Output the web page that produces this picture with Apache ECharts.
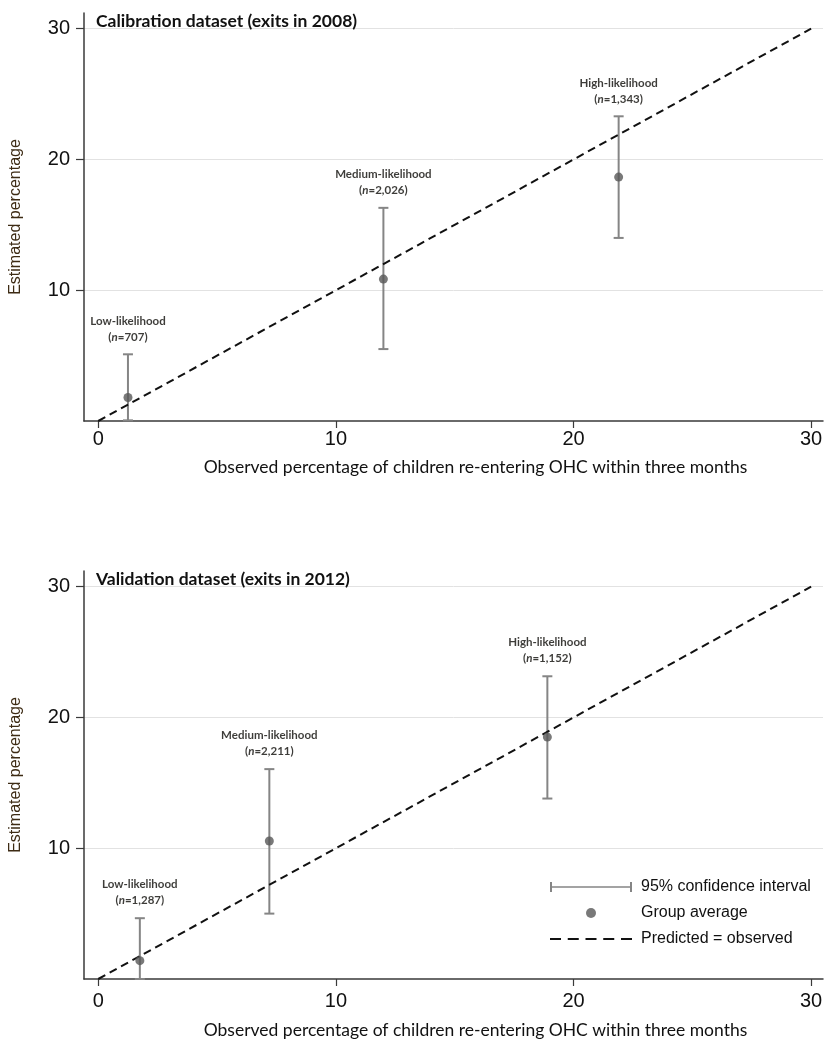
<!DOCTYPE html>
<html>
<head>
<meta charset="utf-8">
<script src="https://cdn.jsdelivr.net/npm/echarts@6/dist/echarts.min.js"></script>
<style>
html,body{margin:0;padding:0;background:#fff;}
#chart{width:827px;height:1042px;}
</style>
</head>
<body>
<div id="chart"></div>
<script>
// ---- data ----
const groupLabels = ['Low-likelihood', 'Medium-likelihood', 'High-likelihood'];
const calN   = ['707', '2,026', '1,343'];
const calObs = [1.25, 12.0, 21.9];
const calEst = [1.8, 10.85, 18.65];
const calLo  = [0.05, 5.5, 14.0];
const calHi  = [5.1, 16.3, 23.3];

const valN   = ['1,287', '2,211', '1,152'];
const valObs = [1.75, 7.2, 18.9];
const valEst = [1.4, 10.55, 18.5];
const valLo  = [0.0, 5.0, 13.8];
const valHi  = [4.65, 16.05, 23.15];

const xTicks = [0, 10, 20, 30];
const yTicks = [10, 20, 30];
const refLine = [[0, 0], [30, 30]];

const titles = ['Calibration dataset (exits in 2008)', 'Validation dataset (exits in 2012)'];
const xName = 'Observed percentage of children re-entering OHC within three months';
const yName = 'Estimated percentage';

// ---- chart ----
const chart = echarts.init(document.getElementById('chart'), null, {renderer: 'canvas'});

const axisColor = '#3a3a3a';
function mkX(gi, labelMargin, nameGap) {
  return {
    type: 'value', gridIndex: gi, min: -0.6, max: 30.5,
    name: xName, nameLocation: 'middle', nameGap: nameGap,
    nameTextStyle: {fontFamily: 'Lato', fontSize: 17.5, color: '#111', padding: [0, 0, 0, 44]},
    axisLine: {show: true, onZero: false, lineStyle: {color: axisColor, width: 1.5}},
    axisTick: {show: true, length: 7, customValues: xTicks, lineStyle: {color: axisColor, width: 1.2}},
    axisLabel: {customValues: xTicks, fontFamily: 'Liberation Sans', fontSize: 20, color: '#111', margin: labelMargin},
    splitLine: {show: false}
  };
}
function mkY(gi) {
  return {
    type: 'value', gridIndex: gi, min: 0, max: 31.2,
    name: yName, nameLocation: 'middle', nameGap: 60, nameRotate: 90,
    nameTextStyle: {fontFamily: 'Liberation Sans', fontSize: 16, color: '#3d2b14'},
    axisLine: {show: true, onZero: false, lineStyle: {color: axisColor, width: 1.5}},
    axisTick: {show: true, length: 8, customValues: yTicks, lineStyle: {color: axisColor, width: 1.2}},
    axisLabel: {customValues: yTicks, fontFamily: 'Liberation Sans', fontSize: 20, color: '#111', margin: 14},
    splitLine: {show: true, lineStyle: {color: '#e2e2e2', width: 1}}
  };
}

function errRender(params, api) {
  const x = api.value(0);
  const lo = api.coord([x, api.value(1)]);
  const hi = api.coord([x, api.value(2)]);
  const hw = 5;
  const style = {stroke: '#858585', lineWidth: 2, fill: null};
  return {
    type: 'group',
    children: [
      {type: 'line', shape: {x1: lo[0], y1: lo[1], x2: hi[0], y2: hi[1]}, style: style},
      {type: 'line', shape: {x1: lo[0] - hw, y1: lo[1], x2: lo[0] + hw, y2: lo[1]}, style: style},
      {type: 'line', shape: {x1: hi[0] - hw, y1: hi[1], x2: hi[0] + hw, y2: hi[1]}, style: style}
    ]
  };
}

function seriesFor(gi, obs, est, lo, hi, ns) {
  return [
    {
      name: 'Predicted = observed', type: 'line', xAxisIndex: gi, yAxisIndex: gi,
      data: refLine, symbol: 'none', silent: true, z: 3,
      itemStyle: {color: '#111'},
      lineStyle: {color: '#111', width: 2, type: [8, 5]}
    },
    {
      name: '95% confidence interval', type: 'custom', xAxisIndex: gi, yAxisIndex: gi,
      renderItem: errRender, itemStyle: {color: '#858585'},
      encode: {x: 0, y: [1, 2]},
      data: obs.map((v, i) => [v, lo[i], hi[i]]), z: 2
    },
    {
      name: 'Group average', type: 'scatter', xAxisIndex: gi, yAxisIndex: gi,
      data: obs.map((v, i) => [v, est[i]]), symbol: 'circle', symbolSize: 9,
      itemStyle: {color: '#575757'}, z: 4
    },
    {
      name: 'labels', type: 'scatter', xAxisIndex: gi, yAxisIndex: gi,
      data: obs.map((v, i) => ({value: [v, hi[i]], name: groupLabels[i]})),
      symbolSize: 1, itemStyle: {color: 'rgba(0,0,0,0)'}, silent: true,
      label: {
        show: true, position: 'top', distance: 9,
        formatter: (p) => '{b|' + groupLabels[p.dataIndex] + '}\n{b|(}{i|n}{b|=' + ns[p.dataIndex] + ')}',
        rich: {
          b: {fontFamily: 'Lato', fontWeight: 'bold', fontSize: 11.5, color: '#0d0b08', lineHeight: 16},
          i: {fontFamily: 'Lato', fontWeight: 'bold', fontStyle: 'italic', fontSize: 11.5, color: '#0d0b08', lineHeight: 16}
        },
        align: 'center'
      }
    }
  ];
}

const option = {
  backgroundColor: '#fff',
  animation: false,
  title: [
    {text: titles[0], left: 91, top: 7, textStyle: {fontFamily: 'Lato', fontWeight: 'bold', fontSize: 17.5, color: '#111'}},
    {text: titles[1], left: 91, top: 565, textStyle: {fontFamily: 'Lato', fontWeight: 'bold', fontSize: 17.5, color: '#111'}}
  ],
  grid: [
    {left: 84, top: 13, width: 739, height: 408},
    {left: 84, top: 571, width: 739, height: 408}
  ],
  xAxis: [mkX(0, 8, 37), mkX(1, 12, 42)],
  yAxis: [mkY(0), mkY(1)],
  legend: {
    orient: 'vertical', left: 545, top: 874,
    itemWidth: 82, itemHeight: 10, itemGap: 10,
    selectedMode: false,
    textStyle: {fontFamily: 'Liberation Sans', fontSize: 16, color: '#111', padding: [0, 0, 0, 4]},
    data: [
      {name: '95% confidence interval', icon: 'path://M0,0H2V10H0ZM0,4.2H82V5.8H0ZM80,0H82V10H80Z', itemStyle: {color: '#858585'}},
      {name: 'Group average', icon: 'circle', itemStyle: {color: '#575757'}},
      {name: 'Predicted = observed', icon: 'path://M0,4H11V6H0ZM17.75,4H28.75V6H17.75ZM35.5,4H46.5V6H35.5ZM53.25,4H64.25V6H53.25ZM71,4H82V6H71Z', itemStyle: {color: '#111'}}
    ]
  },
  series: [].concat(
    seriesFor(0, calObs, calEst, calLo, calHi, calN),
    seriesFor(1, valObs, valEst, valLo, valHi, valN)
  )
};
chart.setOption(option);
</script>
</body>
</html>
